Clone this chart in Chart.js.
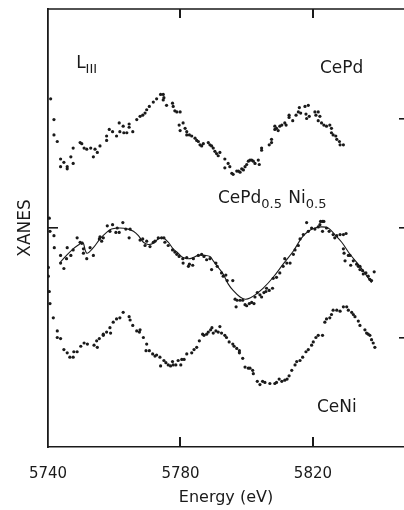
<!DOCTYPE html>
<html>
<head>
<meta charset="utf-8">
<script src="https://cdn.jsdelivr.net/npm/chart.js@4/dist/chart.umd.min.js"></script>
<style>
  html, body { margin: 0; padding: 0; background: #fff; }
  #wrap { width: 404px; height: 510px; }
</style>
</head>
<body>
<div id="wrap"><canvas id="xanes-chart"></canvas></div>
<script>
// energy (eV), XANES signal (arb. units, curves offset)
const energyTicks = [5740, 5780, 5820];
const levelTicks = [1, 2, 3];

const cePd = [
  [5740.8,3.18],[5741.8,2.99],[5741.8,2.85],[5742.8,2.79],[5743.8,2.63],[5743.8,2.56],[5744.8,2.60],
  [5745.8,2.56],[5745.8,2.54],[5746.9,2.65],[5747.6,2.73],[5747.6,2.59],[5749.7,2.78],[5750.2,2.77],
  [5750.9,2.73],[5751.7,2.72],[5752.9,2.73],[5753.7,2.65],[5754.2,2.72],[5754.9,2.69],[5755.7,2.75],
  [5757.7,2.80],[5757.7,2.84],[5758.5,2.90],[5759.5,2.88],[5760.7,2.84],[5761.5,2.96],[5761.7,2.88],
  [5762.7,2.93],[5762.9,2.87],[5763.8,2.87],[5764.5,2.95],[5764.5,2.92],[5765.6,2.88],[5766.8,2.99],
  [5767.8,3.02],[5768.6,3.03],[5769.3,3.05],[5769.8,3.08],[5770.6,3.11],[5771.8,3.15],[5772.8,3.18],
  [5774.0,3.22],[5774.8,3.22],[5775.0,3.19],[5774.8,3.17],[5775.8,3.12],[5777.6,3.14],[5777.8,3.11],
  [5778.3,3.07],[5778.9,3.06],[5779.9,3.06],[5779.6,2.94],[5779.9,2.89],[5780.8,2.96],[5781.4,2.91],
  [5781.9,2.88],[5781.9,2.85],[5782.7,2.85],[5783.4,2.84],[5784.4,2.82],[5784.9,2.80],[5785.4,2.79],
  [5785.9,2.76],[5786.4,2.75],[5786.9,2.77],[5788.4,2.78],[5788.9,2.76],[5789.4,2.75],[5789.9,2.73],
  [5790.4,2.70],[5790.9,2.68],[5791.9,2.69],[5791.4,2.66],[5793.4,2.63],[5793.4,2.55],[5794.4,2.59],
  [5794.9,2.56],[5795.5,2.50],[5795.9,2.49],[5797.0,2.52],[5797.5,2.52],[5798.0,2.51],[5798.5,2.54],
  [5799.0,2.53],[5799.5,2.56],[5800.0,2.58],[5800.5,2.61],[5801.0,2.62],[5801.5,2.62],[5802.0,2.61],
  [5802.5,2.59],[5803.5,2.62],[5803.8,2.58],[5804.5,2.73],[5804.5,2.71],[5806.8,2.76],[5807.5,2.81],
  [5807.5,2.78],[5808.5,2.90],[5808.5,2.93],[5809.0,2.91],[5809.5,2.89],[5810.0,2.93],[5810.6,2.94],
  [5811.5,2.96],[5811.9,2.94],[5812.8,3.03],[5812.8,3.01],[5813.9,2.98],[5814.9,3.03],[5815.6,3.06],
  [5815.9,3.10],[5816.3,3.05],[5817.6,3.11],[5818.6,3.12],[5817.9,3.04],[5818.9,3.02],[5818.1,3.00],
  [5820.6,3.06],[5821.6,3.06],[5820.9,3.03],[5822.1,3.02],[5821.6,2.98],[5822.6,2.96],[5823.3,2.94],
  [5824.1,2.93],[5825.1,2.94],[5825.6,2.91],[5825.6,2.87],[5826.1,2.85],[5826.9,2.84],[5827.2,2.81],
  [5828.0,2.79],[5828.2,2.76],[5829.2,2.76]
];

const cePdNi = [
  [5740.4,2.09],[5740.6,1.97],[5741.8,1.93],[5741.9,1.82],[5743.8,1.75],[5743.8,1.68],[5744.8,1.63],
  [5745.6,1.72],[5745.8,1.82],[5746.9,1.75],[5747.6,1.80],[5748.8,1.91],[5749.7,1.87],[5750.2,1.86],
  [5750.7,1.81],[5750.7,1.77],[5751.7,1.72],[5752.7,1.82],[5753.7,1.75],[5755.5,1.90],[5755.7,1.92],
  [5756.2,1.88],[5756.7,1.91],[5757.9,2.02],[5758.7,1.97],[5759.5,2.03],[5760.5,1.96],[5760.9,2.00],
  [5761.5,1.96],[5762.6,2.05],[5763.5,1.99],[5764.5,1.91],[5764.8,1.99],[5767.8,1.89],[5768.6,1.90],
  [5769.3,1.84],[5769.8,1.88],[5770.8,1.83],[5771.8,1.87],[5772.3,1.88],[5773.3,1.91],[5774.3,1.91],
  [5775.0,1.91],[5775.3,1.87],[5776.3,1.84],[5777.6,1.80],[5778.3,1.78],[5778.9,1.76],[5779.6,1.74],
  [5780.7,1.72],[5780.8,1.68],[5781.9,1.73],[5782.4,1.65],[5782.7,1.67],[5783.7,1.66],[5783.9,1.72],
  [5785.4,1.75],[5786.4,1.76],[5787.1,1.74],[5787.9,1.71],[5788.9,1.72],[5789.4,1.62],[5790.7,1.68],
  [5791.1,1.65],[5792.4,1.59],[5792.9,1.56],[5793.7,1.57],[5794.1,1.52],[5795.8,1.52],[5796.5,1.35],
  [5796.8,1.28],[5797.1,1.34],[5798.0,1.34],[5798.8,1.34],[5799.5,1.30],[5800.0,1.29],[5800.8,1.31],
  [5801.5,1.32],[5802.2,1.31],[5802.5,1.37],[5803.2,1.41],[5804.0,1.39],[5804.5,1.37],[5805.2,1.41],
  [5805.8,1.42],[5806.0,1.45],[5806.8,1.43],[5807.8,1.45],[5808.0,1.54],[5809.0,1.55],[5810.0,1.59],
  [5811.0,1.65],[5811.5,1.72],[5812.1,1.68],[5813.1,1.68],[5814.1,1.76],[5814.6,1.80],[5815.6,1.84],
  [5816.1,1.90],[5817.1,1.94],[5818.1,2.05],[5818.6,1.97],[5819.6,2.00],[5820.6,1.99],[5821.6,2.01],
  [5822.3,2.06],[5822.9,2.06],[5823.3,2.06],[5822.1,2.03],[5822.9,1.97],[5824.1,2.00],[5824.9,1.97],
  [5826.1,1.94],[5826.6,1.91],[5827.2,1.93],[5828.2,1.94],[5829.2,1.94],[5830.0,1.95],[5829.2,1.81],
  [5829.4,1.77],[5830.7,1.75],[5831.2,1.75],[5829.7,1.70],[5831.4,1.66],[5832.2,1.70],[5833.2,1.67],
  [5833.7,1.65],[5834.2,1.62],[5834.2,1.65],[5835.0,1.61],[5835.2,1.58],[5836.0,1.59],[5836.7,1.56],
  [5837.2,1.53],[5837.7,1.52],[5838.5,1.60]
];

// smooth curve drawn through the CePd0.5Ni0.5 points
const cePdNiFit = [
  [5743.8,1.69],[5745.6,1.75],[5747.6,1.81],[5749.4,1.85],[5750.5,1.87],[5751.7,1.77],[5753.7,1.82],
  [5755.7,1.90],[5757.7,1.96],[5759.2,1.99],[5761.7,2.00],[5764.2,1.99],[5765.8,1.97],[5767.3,1.93],
  [5768.8,1.87],[5770.3,1.85],[5771.8,1.86],[5773.3,1.90],[5774.8,1.91],[5776.3,1.87],[5777.8,1.81],
  [5779.3,1.77],[5780.8,1.73],[5782.9,1.72],[5785.4,1.75],[5787.4,1.75],[5788.9,1.74],[5789.9,1.70],
  [5791.4,1.64],[5792.9,1.58],[5794.4,1.49],[5795.9,1.43],[5798.0,1.37],[5799.5,1.35],[5801.0,1.36],
  [5803.0,1.40],[5805.0,1.45],[5808.0,1.55],[5811.0,1.67],[5814.1,1.79],[5816.6,1.91],[5818.6,1.97],
  [5820.6,2.00],[5822.6,2.01],[5824.6,2.00],[5826.6,1.94],[5828.7,1.87],[5831.2,1.76],[5834.2,1.65],
  [5837.7,1.50]
];

const ceNi = [
  [5740.1,1.64],[5740.1,1.56],[5740.4,1.42],[5740.6,1.31],[5741.6,1.18],[5742.8,1.06],[5742.8,1.00],
  [5743.8,0.99],[5744.8,0.89],[5745.8,0.86],[5746.6,0.82],[5747.6,0.82],[5747.8,0.87],[5748.8,0.87],
  [5749.9,0.92],[5750.9,0.95],[5751.9,0.94],[5753.9,0.93],[5754.7,0.97],[5754.9,0.91],[5755.5,0.99],
  [5756.7,1.03],[5756.7,1.02],[5757.7,1.05],[5758.7,1.09],[5758.9,1.04],[5759.7,1.14],[5760.7,1.17],
  [5761.7,1.18],[5762.7,1.23],[5764.5,1.19],[5764.8,1.16],[5765.6,1.11],[5766.8,1.06],[5767.6,1.05],
  [5767.8,1.07],[5768.8,1.00],[5769.8,0.94],[5769.6,0.88],[5770.6,0.88],[5771.6,0.85],[5772.3,0.83],
  [5772.8,0.84],[5773.8,0.82],[5774.0,0.74],[5775.0,0.79],[5775.6,0.77],[5776.3,0.75],[5777.0,0.74],
  [5777.6,0.78],[5777.8,0.75],[5778.6,0.75],[5779.3,0.79],[5780.1,0.75],[5780.4,0.80],[5781.1,0.80],
  [5781.9,0.85],[5783.4,0.86],[5784.1,0.89],[5784.9,0.91],[5785.7,0.97],[5786.7,1.03],[5787.1,1.02],
  [5787.9,1.03],[5788.4,1.05],[5789.1,1.07],[5789.5,1.09],[5789.9,1.04],[5790.7,1.06],[5791.4,1.05],
  [5791.9,1.10],[5792.4,1.04],[5793.4,1.02],[5793.9,1.00],[5794.7,0.96],[5795.8,0.94],[5796.2,0.92],
  [5797.0,0.90],[5797.8,0.88],[5797.8,0.86],[5798.8,0.81],[5799.5,0.73],[5800.5,0.72],[5801.0,0.72],
  [5801.8,0.70],[5802.0,0.67],[5803.2,0.60],[5804.0,0.57],[5804.8,0.60],[5805.5,0.59],[5807.0,0.58],
  [5808.5,0.58],[5809.0,0.59],[5809.8,0.62],[5810.6,0.60],[5811.5,0.61],[5812.2,0.62],[5812.8,0.65],
  [5813.6,0.70],[5814.6,0.75],[5815.1,0.78],[5816.1,0.79],[5816.9,0.82],[5817.9,0.87],[5818.6,0.89],
  [5819.6,0.93],[5820.1,0.96],[5820.9,1.00],[5821.6,1.02],[5822.9,1.02],[5823.6,1.14],[5824.1,1.17],
  [5825.1,1.18],[5825.6,1.21],[5826.1,1.25],[5827.2,1.25],[5828.2,1.24],[5829.2,1.28],[5830.2,1.28],
  [5830.7,1.25],[5831.7,1.23],[5832.2,1.21],[5832.7,1.19],[5833.7,1.15],[5834.2,1.11],[5835.7,1.07],
  [5836.2,1.04],[5836.7,1.03],[5837.2,1.02],[5837.7,0.98],[5838.2,0.95],[5838.7,0.91]
];

const toXY = arr => arr.map(p => ({ x: p[0], y: p[1] }));
const ink = '#1a1a1a';
const fontFamily = '"DejaVu Sans", sans-serif';

// text labels placed in data coordinates: [text, subscript?]
const curveLabels = [
  { x: 5748.5, y: 3.457, parts: [['L', false], ['III', true]] },
  { x: 5822.1, y: 3.412, parts: [['CePd', false]] },
  { x: 5791.3, y: 2.230, parts: [['CePd', false], ['0.5', true], [' Ni', false], ['0.5', true]] },
  { x: 5821.2, y: 0.321, parts: [['CeNi', false]] }
];

const frame = {
  id: 'frame',
  afterDraw(chart) {
    const { ctx, chartArea: a } = chart;
    const xs = chart.scales.x;
    const ys = chart.scales.y;
    ctx.save();
    ctx.fillStyle = ink;
    // top border
    ctx.fillRect(a.left, a.top - 0.75, chart.width - a.left, 1.5);
    // inner ticks on top and bottom
    [energyTicks[1], energyTicks[2]].forEach(v => {
      const px = Math.round(xs.getPixelForValue(v));
      ctx.fillRect(px - 1, a.top, 2, 9);
      ctx.fillRect(px - 1, a.bottom - 10, 2, 10);
    });
    // inner ticks left / right
    levelTicks.forEach(v => {
      const py = Math.round(ys.getPixelForValue(v));
      ctx.fillRect(a.right - 5, py - 1, 5, 1.6);
      if (v === 2) ctx.fillRect(a.left, py - 1, 10, 1.6);
    });
    // curve labels
    ctx.textBaseline = 'alphabetic';
    curveLabels.forEach(lab => {
      let px = xs.getPixelForValue(lab.x);
      const py = ys.getPixelForValue(lab.y);
      lab.parts.forEach(([t, sub]) => {
        ctx.font = (sub ? '13px ' : '17px ') + fontFamily;
        ctx.fillText(t, px, sub ? py + 5 : py);
        px += ctx.measureText(t).width + (sub ? 1 : 0);
      });
    });
    ctx.restore();
  }
};

const dotStyle = {
  showLine: false,
  pointRadius: 1.6,
  pointHoverRadius: 1.6,
  pointBorderWidth: 0,
  pointBackgroundColor: ink,
  borderColor: ink
};

new Chart(document.getElementById('xanes-chart'), {
  type: 'scatter',
  data: {
    datasets: [
      { label: 'CePd', data: toXY(cePd), ...dotStyle },
      { label: 'CePd0.5Ni0.5', data: toXY(cePdNi), ...dotStyle },
      { label: 'CeNi', data: toXY(ceNi), ...dotStyle },
      {
        label: 'fit',
        data: toXY(cePdNiFit),
        showLine: true,
        pointRadius: 0,
        borderColor: ink,
        borderWidth: 1.1,
        tension: 0.35
      }
    ]
  },
  options: {
    responsive: true,
    maintainAspectRatio: false,
    animation: false,
    layout: { autoPadding: false, padding: { top: 9, left: 0, right: 0, bottom: 0 } },
    plugins: {
      legend: { display: false },
      tooltip: { enabled: false }
    },
    scales: {
      x: {
        type: 'linear',
        min: 5740,
        max: 5847.5,
        afterBuildTicks: s => { s.ticks = energyTicks.map(v => ({ value: v })); },
        afterFit: s => { s.height = 63; },
        grid: { display: false },
        border: { display: true, color: ink, width: 1.5 },
        ticks: {
          color: ink,
          padding: 10,
          maxRotation: 0,
          callback: v => String(v),
          font: { family: fontFamily, size: 15 }
        },
        title: {
          display: true,
          text: 'Energy (eV)',
          color: ink,
          padding: { top: 0, bottom: 3 },
          font: { family: fontFamily, size: 16 }
        }
      },
      y: {
        min: 0,
        max: 4,
        afterFit: s => { s.width = 48; },
        grid: { display: false },
        border: { display: true, color: ink, width: 1.8 },
        ticks: { display: false },
        title: {
          display: true,
          text: 'XANES',
          color: ink,
          padding: { top: 15, bottom: 0 },
          font: { family: fontFamily, size: 17 }
        }
      }
    }
  },
  plugins: [frame]
});
</script>
</body>
</html>
